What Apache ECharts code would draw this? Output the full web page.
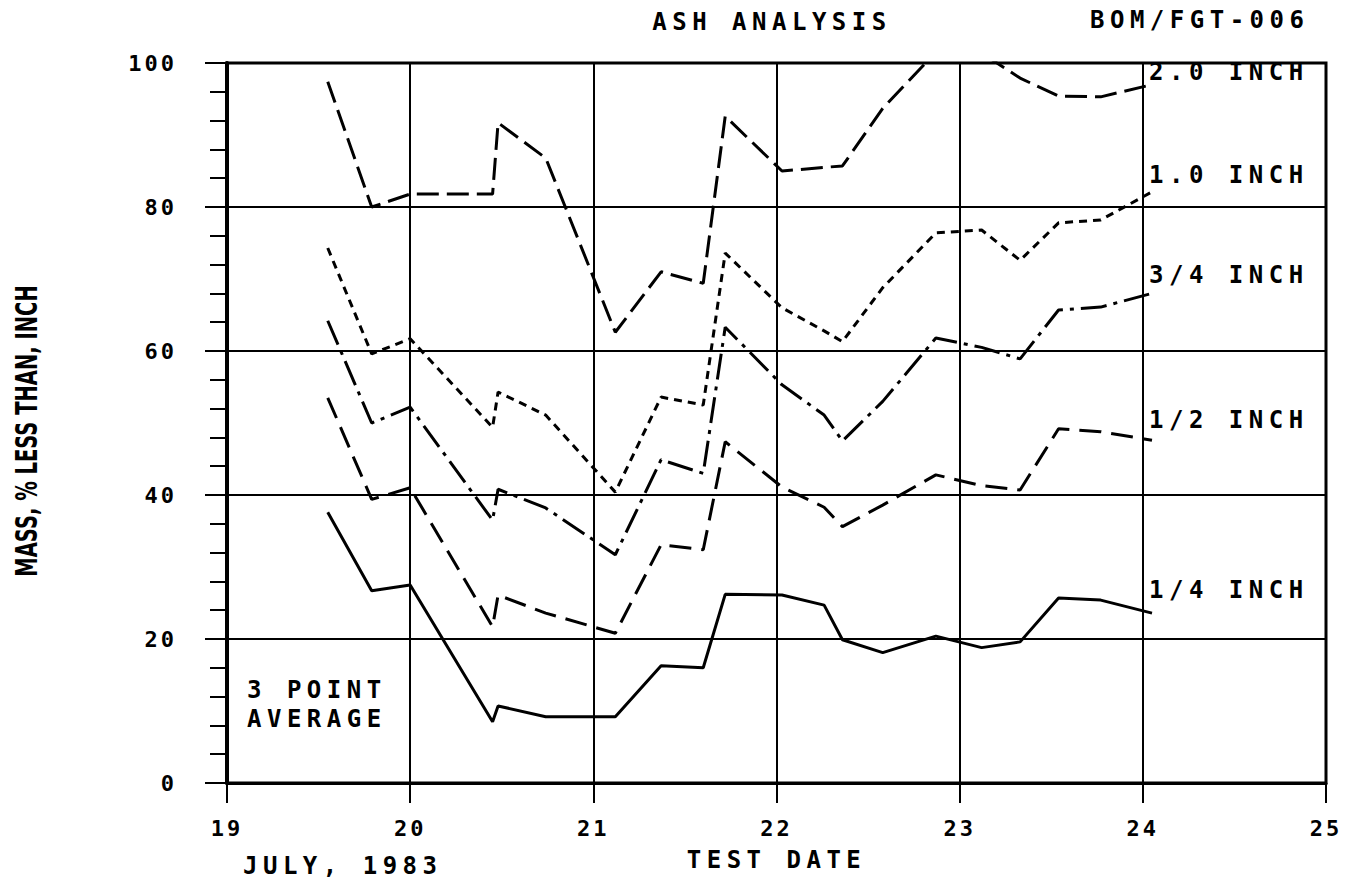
<!DOCTYPE html>
<html>
<head>
<meta charset="utf-8">
<script src="https://cdn.jsdelivr.net/npm/echarts@6/dist/echarts.min.js"></script>
<style>
html,body{margin:0;padding:0;background:#fff;}
#chart{width:1365px;height:886px;}
</style>
</head>
<body>
<div id="chart"></div>
<script>
// Test dates (July 1983, fractional day)
const dates = [19.55,19.79,20.00,20.45,20.48,20.74,21.12,21.37,21.60,21.72,22.03,22.26,22.36,22.58,22.87,23.12,23.33,23.54,23.77,24.05];
// Mass % less than size (3 point average)
const inch2_0 = [97.4,80.0,81.8,81.8,91.7,86.8,62.6,71.0,69.4,92.6,85.0,85.5,85.7,93.7,101.5,101.4,97.9,95.4,95.3,97.0];
const inch1_0 = [74.3,59.6,61.7,49.4,54.3,51.1,40.4,53.6,52.5,73.6,66.0,62.8,61.3,68.8,76.4,76.8,72.6,77.8,78.2,82.1];
const inch3_4 = [64.2,50.0,52.2,36.5,40.8,38.2,31.7,44.9,43.0,63.3,55.3,51.1,47.5,53.0,61.8,60.5,58.9,65.7,66.1,68.0];
const inch1_2 = [53.5,39.4,41.0,21.7,26.1,23.6,20.8,33.1,32.4,47.4,41.1,38.3,35.6,38.6,42.8,41.3,40.7,49.2,48.8,47.6];
const inch1_4 = [37.6,26.7,27.5,8.5,10.7,9.2,9.2,16.3,16.0,26.2,26.1,24.7,19.9,18.1,20.4,18.8,19.6,25.7,25.4,23.6];
const seriesNames = ['2.0 INCH','1.0 INCH','3/4 INCH','1/2 INCH','1/4 INCH'];
const xTicks = [19,20,21,22,23,24,25];
const yTicks = [0,20,40,60,80,100];

const MONO = '"DejaVu Sans Mono", "Liberation Mono", monospace';
const BIG = 24, SMALL = 22;
const lblFont = {fontFamily: MONO, fontWeight: 'bold', fontSize: BIG, color: '#000'};

function pairs(vals){ return dates.map((d,i)=>[d, vals[i]]); }

const styles = [
  {vals: inch2_0, dash: [22,8], off: [-3,-13]},
  {vals: inch1_0, dash: [8,6], off: [-3,-17]},
  {vals: inch3_4, dash: [26,7,4,7], off: [-3,-18]},
  {vals: inch1_2, dash: [22,10], off: [-3,-20]},
  {vals: inch1_4, dash: 'solid', off: [-3,-23]}
];

const series = styles.map((s,i)=>({
  type: 'line',
  name: seriesNames[i],
  data: pairs(s.vals),
  symbol: 'none',
  clip: true,
  lineStyle: {color: '#000', width: 3, type: s.dash},
  endLabel: Object.assign({show: true, formatter: seriesNames[i], distance: 0, offset: s.off, align: 'left'}, lblFont)
}));

const chart = echarts.init(document.getElementById('chart'), null, {renderer: 'svg'});
chart.setOption({
  animation: false,
  backgroundColor: '#fff',
  grid: {left: 227, right: 39, top: 63, bottom: 103, show: true, borderColor: '#000', borderWidth: 3, backgroundColor: 'transparent'},
  xAxis: {
    type: 'value', min: xTicks[0], max: xTicks[xTicks.length-1], interval: 1,
    axisLine: {show: true, onZero: false, lineStyle: {color: '#000', width: 3}},
    axisTick: {show: true, length: 20, lineStyle: {color: '#000', width: 2}},
    axisLabel: {color: '#000', fontFamily: MONO, fontWeight: 'bold', fontSize: SMALL, margin: 34, showMinLabel: true, showMaxLabel: true},
    splitLine: {show: true, lineStyle: {color: '#000', width: 2}},
    name: 'TEST DATE', nameLocation: 'middle', nameGap: 65,
    nameTextStyle: lblFont
  },
  yAxis: {
    type: 'value', min: yTicks[0], max: yTicks[yTicks.length-1], interval: 20,
    axisLine: {show: true, lineStyle: {color: '#000', width: 4}},
    axisTick: {show: true, length: 22, lineStyle: {color: '#000', width: 2}},
    minorTick: {show: true, splitNumber: 5, length: 17, lineStyle: {color: '#000', width: 2}},
    axisLabel: {color: '#000', fontFamily: MONO, fontWeight: 'bold', fontSize: SMALL, margin: 50, showMinLabel: true, showMaxLabel: true},
    splitLine: {show: true, lineStyle: {color: '#000', width: 2}}
  },
  graphic: [
    {type: 'text', x: 772, y: 22, style: {text: 'ASH ANALYSIS', font: 'bold 24px ' + MONO, fill: '#000', align: 'center', verticalAlign: 'middle'}},
    {type: 'text', x: 1090, y: 20, style: {text: 'BOM/FGT-006', font: 'bold 24px ' + MONO, fill: '#000', align: 'left', verticalAlign: 'middle'}},
    {type: 'text', x: 243, y: 866, style: {text: 'JULY, 1983', font: 'bold 24px ' + MONO, fill: '#000', align: 'left', verticalAlign: 'middle'}},
    {type: 'text', x: 247, y: 690, style: {text: '3 POINT', font: 'bold 24px ' + MONO, fill: '#000', align: 'left', verticalAlign: 'middle'}},
    {type: 'text', x: 247, y: 719, style: {text: 'AVERAGE', font: 'bold 24px ' + MONO, fill: '#000', align: 'left', verticalAlign: 'middle'}},
    {type: 'text', x: 26, y: 431, rotation: Math.PI/2, scaleX: 0.7, scaleY: 1,
     style: {text: 'MASS, % LESS THAN, INCH', font: 'bold 31px "DejaVu Sans Condensed", "Liberation Sans Narrow", sans-serif', fill: '#000', align: 'center', verticalAlign: 'middle'}}
  ],
  series: series
});

function spaceText(){
  document.querySelectorAll('#chart svg text').forEach(t=>{
    const cs = getComputedStyle(t);
    if (cs.fontFamily.indexOf('Mono') >= 0) {
      const fs = parseFloat(cs.fontSize);
      const sp = fs >= BIG ? 5.5 : 3;
      t.setAttribute('letter-spacing', String(sp));
      t.style.letterSpacing = sp + 'px';
    }
  });
}
chart.on('finished', spaceText);
setTimeout(spaceText, 50);
setTimeout(spaceText, 300);
</script>
</body>
</html>
